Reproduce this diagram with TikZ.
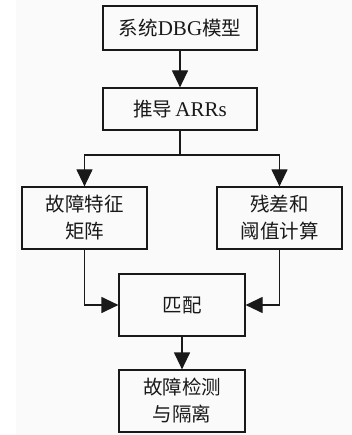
\documentclass[tikz,border=0pt]{standalone}
\usepackage{fontspec}
\setmainfont{Liberation Serif}
\newfontfamily\cjk{Noto Sans CJK SC}
\usetikzlibrary{arrows.meta}
\begin{document}
\begin{tikzpicture}[x=1pt,y=1pt,
  box/.style={draw=black!90,line width=1.2pt,rectangle,align=center,inner sep=0pt,
    font=\fontsize{19.5}{27}\selectfont,text=black!90},
  arr/.style={line width=1.2pt,draw=black!90,-{Triangle[width=16pt,length=17pt]}},
  ln/.style={line width=1.2pt,draw=black!90}]
\useasboundingbox (0,0) rectangle (352,-435);
\fill[black!2] (16,0) rectangle (352,-435);
\node[box,minimum width=154,minimum height=44] (b1) at (180,-28) {{\cjk 系统}{\fontsize{21}{27}\selectfont DBG}{\cjk 模型}};
\node[box,minimum width=154,minimum height=42] (b2) at (180,-109) {{\cjk 推导}\,{\fontsize{21}{27}\selectfont ARRs}};
\node[box,minimum width=125,minimum height=62] (b3) at (84.5,-218) {\cjk 故障特征\\\cjk 矩阵};
\node[box,minimum width=125,minimum height=62] (b4) at (279.5,-218) {\cjk 残差和\\\cjk 阈值计算};
\node[box,minimum width=126,minimum height=62] (b5) at (182,-305) {\cjk 匹配};
\node[box,minimum width=126,minimum height=62] (b6) at (182,-401) {\cjk 故障检测\\\cjk 与隔离};
\coordinate (split) at (180,-155);
\draw[arr] (b1) -- (b2);
\draw[ln] (b2) -- (split);
\draw[arr] (split) -| (b3);
\draw[arr] (split) -| (b4);
\draw[arr] (b3) |- (b5);
\draw[arr] (b4) |- (b5);
\draw[arr] (b5) -- (b6);
\end{tikzpicture}
\end{document}
